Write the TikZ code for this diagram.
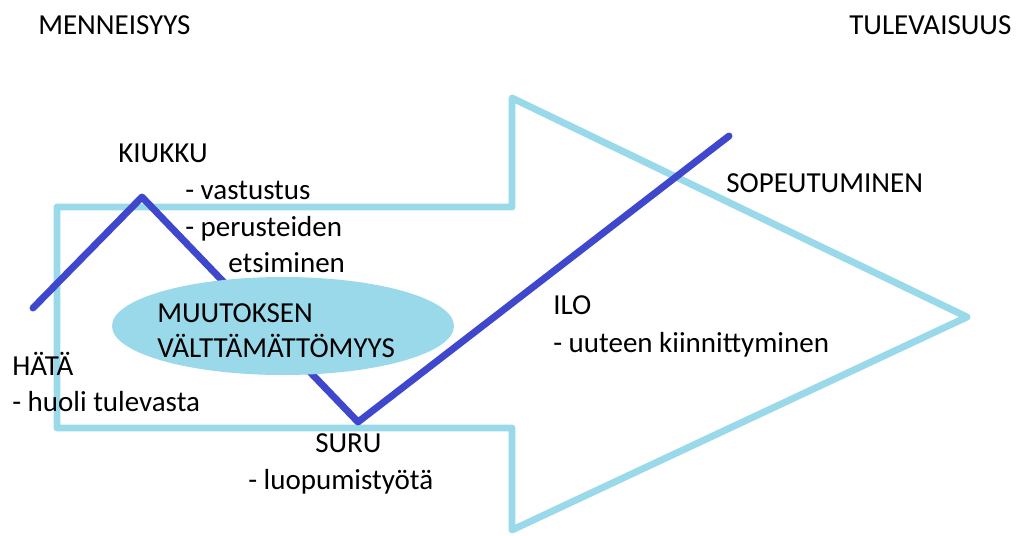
\documentclass[tikz,border=0pt]{standalone}
\usepackage{fontspec}
\setmainfont{Carlito}
\usetikzlibrary{shapes.geometric}
\definecolor{lightturq}{HTML}{99D9EA}
\definecolor{indigoline}{HTML}{3F48CC}
\begin{document}
\begin{tikzpicture}[x=0.75pt,y=-0.75pt,
  lbl/.style={anchor=base west,inner sep=0pt,font=\fontsize{21.75}{26}\selectfont,text=black},
  arrowshape/.style={draw=lightturq,line width=5.2pt,line join=round},
  curveline/.style={draw=indigoline,line width=5.2pt,line cap=round,line join=round},
  oval/.style={ellipse,fill=lightturq,draw=none,minimum width=256.5pt,minimum height=73.5pt,inner sep=0pt}]
\useasboundingbox (0,0) rectangle (1016,535);
% big arrow
\draw[arrowshape] (57,207) -- (512,207) -- (512,98) -- (967,317) -- (512,530) -- (512,428) -- (57,428) -- cycle;
% emotional curve
\coordinate (start) at (33,308);
\coordinate (peak) at (142,197);
\coordinate (low) at (358,422);
\coordinate (end) at (729,136);
\draw[curveline] (start) -- (peak) -- (low) -- (end);
% ellipse
\node[oval] (ell) at (283,326) {};
% labels
\node[lbl] (past) at (38,35) {MENNEISYYS};
\node[lbl] (future) at (849,35) {TULEVAISUUS};
\node[lbl] (kiukku) at (118,162) {KIUKKU};
\node[lbl] (k1) at (185,199) {- vastustus};
\node[lbl] (k2) at (185,236) {- perusteiden};
\node[lbl] (k3) at (228,272) {etsiminen};
\node[lbl] (m1) at (157,322) {MUUTOKSEN};
\node[lbl] (m2) at (157,357) {VÄLTTÄMÄTTÖMYYS};
\node[lbl] (hata) at (12,375) {HÄTÄ};
\node[lbl] (h1) at (12,411) {- huoli tulevasta};
\node[lbl] (suru) at (315,452) {SURU};
\node[lbl] (s1) at (248,489) {- luopumistyötä};
\node[lbl] (ilo) at (553,314) {ILO};
\node[lbl] (i1) at (553,352) {- uuteen kiinnittyminen};
\node[lbl] (sop) at (726,192) {SOPEUTUMINEN};
\end{tikzpicture}
\end{document}
